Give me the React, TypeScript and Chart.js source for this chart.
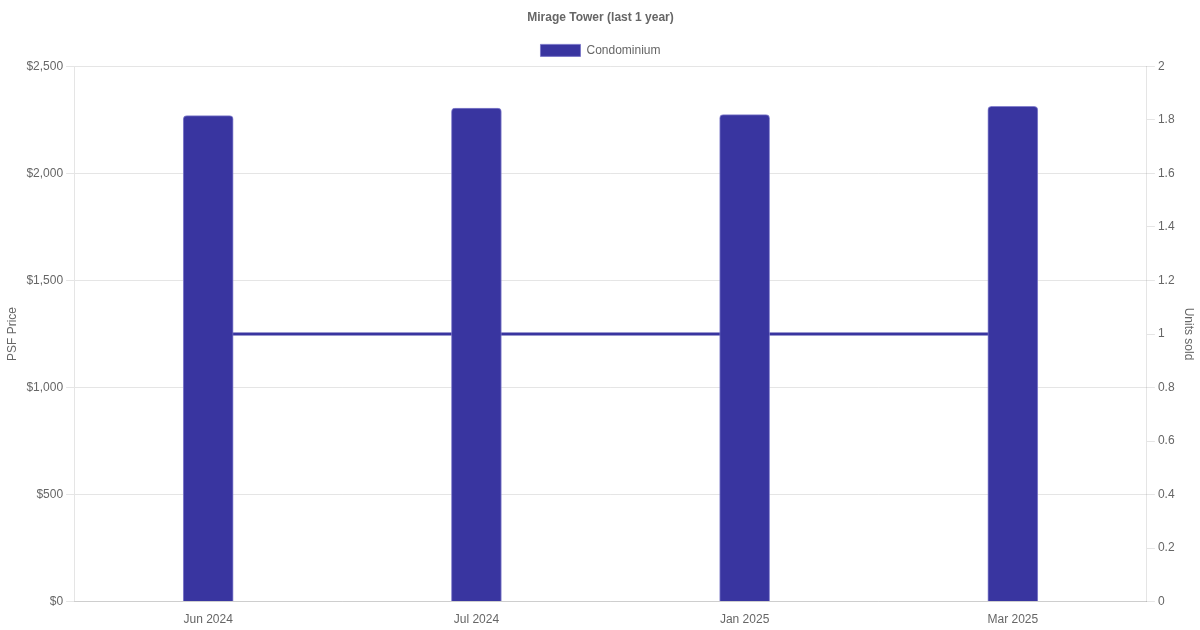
import React, { useEffect, useRef } from "react";
import { Chart, registerables } from "chart.js";

Chart.register(...registerables);

const categories = ["Jun 2024", "Jul 2024", "Jan 2025", "Mar 2025"];
const psfPrices = [2270, 2305, 2275, 2313];
const unitsSold = [1, 1, 1, 1];
const chartTitle = "Mirage Tower (last 1 year)";
const seriesLabel = "Condominium";

export default function App() {
  const ref = useRef<HTMLCanvasElement | null>(null);
  useEffect(() => {
    document.body.style.margin = "0";
    const ctx = ref.current;
    if (!ctx) return;
    const color = "#3935a0";
    const chart = new Chart(ctx, {
      type: "bar",
      data: {
        labels: categories,
        datasets: [
          {
            type: "bar",
            label: seriesLabel,
            data: psfPrices,
            backgroundColor: color,
            borderColor: "rgba(120,116,200,0.9)",
            borderWidth: 1,
            borderRadius: 4,
            borderSkipped: "bottom",
            barThickness: 50,
            yAxisID: "y",
            order: 1,
          },
          {
            type: "line",
            label: "Units sold",
            data: unitsSold,
            borderColor: color,
            backgroundColor: color,
            borderWidth: 3,
            pointRadius: 0,
            fill: false,
            yAxisID: "y1",
            order: 2,
          },
        ],
      },
      options: {
        responsive: false,
        animation: false,
        maintainAspectRatio: false,
        layout: { padding: { left: 1 } },
        plugins: {
          title: {
            display: true,
            text: chartTitle,
            color: "#666",
            font: { size: 12, weight: "bold" },
          },
          legend: {
            labels: {
              color: "#666",
              font: { size: 12 },
              filter: (item: any) => item.text === seriesLabel,
            },
          },
          tooltip: { enabled: false },
        },
        scales: {
          x: {
            grid: { display: false },
            ticks: { color: "#666", font: { size: 12 } },
          },
          y: {
            position: "left",
            min: 0,
            max: 2500,
            ticks: {
              stepSize: 500,
              color: "#666",
              font: { size: 12 },
              callback: (v: any) => "$" + Number(v).toLocaleString("en-US"),
            },
            title: { display: true, text: "PSF Price", color: "#666", font: { size: 12 } },
          },
          y1: {
            position: "right",
            min: 0,
            max: 2,
            grid: { drawOnChartArea: false },
            ticks: {
              stepSize: 0.2,
              color: "#666",
              font: { size: 12 },
              callback: (v: any) => String(Number(Number(v).toFixed(1))),
            },
            title: { display: true, text: "Units sold", color: "#666", font: { size: 12 } },
          },
        },
      },
    });
    return () => chart.destroy();
  }, []);
  return (
    <div style={{ position: "fixed", left: 0, top: 0, width: 1200, height: 630 }}>
      <canvas ref={ref} width={1200} height={630} />
    </div>
  );
}
